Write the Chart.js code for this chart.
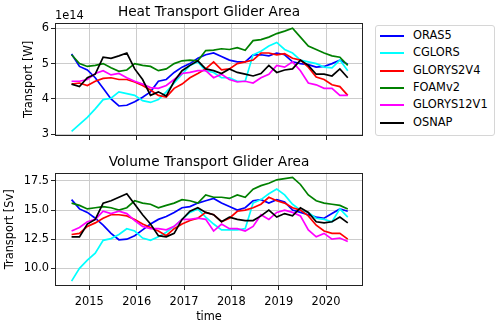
<!DOCTYPE html>
<html>
<head>
<meta charset="utf-8">
<script src="https://cdn.jsdelivr.net/npm/chart.js@4.4.0/dist/chart.umd.min.js"></script>
<style>
  body { margin: 0; background: #fff; font-family: "DejaVu Sans", sans-serif; }
  #wrap { position: relative; width: 500px; height: 325px; overflow: hidden; }
  #heatChart { position: absolute; left: 0; top: 0; }
  #volChart { position: absolute; left: 0; top: 150px; }
  #legend {
    position: absolute; left: 375px; top: 25px; width: 118px; height: 108px;
    border: 1px solid #d6d6d6; border-radius: 3px; background: #fff; padding-top: 1px;
  }
  .row { position: relative; height: 17.35px; font-size: 11.4px; line-height: 17.35px; color: #000; }
  .row i { position: absolute; left: 4px; top: 8px; width: 24px; height: 2px; }
  .row span { position: absolute; left: 37px; top: 0; white-space: nowrap; }
</style>
</head>
<body>
<div id="wrap">
  <canvas id="heatChart" width="370" height="150"></canvas>
  <canvas id="volChart" width="370" height="175"></canvas>
  <div id="legend"></div>
</div>
<script>
// bi-monthly samples, mid-month
const months = [
  '2014-08','2014-10','2014-12',
  '2015-02','2015-04','2015-06','2015-08','2015-10','2015-12',
  '2016-02','2016-04','2016-06','2016-08','2016-10','2016-12',
  '2017-02','2017-04','2017-06','2017-08','2017-10','2017-12',
  '2018-02','2018-04','2018-06','2018-08','2018-10','2018-12',
  '2019-02','2019-04','2019-06','2019-08','2019-10','2019-12',
  '2020-02','2020-04','2020-06'
];

const seriesNames = ['ORAS5', 'CGLORS', 'GLORYS2V4', 'FOAMv2', 'GLORYS12V1', 'OSNAP'];
const seriesColors = ['#0000ff', '#00ffff', '#ff0000', '#008000', '#ff00ff', '#000000'];

// heat transport, units of 1e14 W
const heatORAS5 = [5.27,4.92,4.82,4.6,4.3,4.0,3.8,3.82,3.92,4.05,4.2,4.5,4.55,4.75,4.9,5.0,5.15,5.25,5.3,5.2,5.1,5.05,5.05,5.25,5.25,5.22,5.3,5.25,5.05,5.0,4.97,4.9,4.92,5.0,5.1,4.98];
const heatCGLORS = [3.08,3.28,3.48,3.72,3.98,4.02,4.2,4.15,4.1,3.95,3.9,3.98,4.2,4.45,4.7,4.95,5.05,4.8,4.75,4.6,4.6,4.5,4.5,5.25,5.35,5.5,5.6,5.4,5.3,5.1,5.05,5.0,4.9,4.88,5.1,4.8];
const heatGLORYS2V4 = [4.42,4.45,4.38,4.5,4.58,4.6,4.55,4.55,4.48,4.38,4.25,4.1,4.05,4.3,4.42,4.6,4.72,4.85,5.05,4.82,4.85,5.0,5.05,5.1,5.3,5.3,5.25,5.28,5.15,5.1,4.9,4.62,4.55,4.4,4.35,4.1];
const heatFOAMv2 = [5.25,5.0,4.92,4.95,5.0,4.88,4.78,4.82,5.0,4.95,4.92,4.8,4.85,5.0,5.08,5.1,5.08,5.37,5.38,5.42,5.4,5.45,5.38,5.65,5.68,5.75,5.85,5.92,6.0,5.75,5.5,5.4,5.3,5.22,5.18,4.95];
const heatGLORYS12V1 = [4.5,4.5,4.55,4.72,4.8,4.68,4.72,4.6,4.5,4.42,4.32,4.3,4.38,4.55,4.72,4.75,4.8,4.8,4.6,4.7,4.55,4.48,4.5,4.45,4.6,4.7,4.95,4.9,5.05,4.8,4.45,4.4,4.3,4.3,4.1,4.1];
const heatOSNAP = [4.42,4.35,4.6,4.7,5.18,5.15,5.22,5.3,4.85,4.55,4.1,4.2,4.08,4.5,4.8,4.95,5.08,4.85,4.8,4.72,4.85,4.75,4.7,4.65,4.72,4.95,4.75,4.82,4.85,5.1,4.95,4.7,4.7,4.65,4.85,4.6];

// volume transport, Sv
const volORAS5 = [15.9,15.1,14.8,14.3,13.7,13.0,12.45,12.5,12.8,13.3,13.8,14.2,14.45,14.8,15.2,15.3,15.6,15.8,16.0,15.6,15.3,15.0,15.2,15.8,15.9,15.6,15.9,15.7,15.0,14.8,14.6,14.4,14.3,14.7,15.1,14.9];
const volCGLORS = [8.9,10.0,10.7,11.3,12.4,12.55,12.9,13.4,13.2,12.6,12.4,12.7,13.1,13.6,14.2,14.8,15.1,14.4,13.8,13.3,13.3,13.3,13.4,15.6,15.9,16.4,16.8,16.3,15.5,15.0,14.8,14.3,14.2,14.0,15.1,14.4];
const volGLORYS2V4 = [12.9,13.0,13.6,13.9,14.3,14.6,14.6,14.5,14.2,13.8,13.5,13.2,12.8,13.4,13.8,14.1,14.3,14.8,14.6,14.0,14.3,14.9,15.0,15.2,15.5,16.1,15.8,15.6,15.2,15.0,14.5,13.7,13.2,13.0,13.0,12.5];
const volFOAMv2 = [15.6,15.4,15.1,15.2,15.3,15.2,15.0,15.2,15.8,15.6,15.5,15.2,15.4,15.6,15.9,15.8,15.6,16.3,16.1,16.1,16.0,16.3,16.1,16.8,17.1,17.3,17.6,17.7,17.8,17.2,16.3,15.8,15.6,15.5,15.4,15.1];
const volGLORYS12V1 = [13.2,13.5,14.0,14.2,14.9,14.7,14.9,14.7,14.1,13.6,13.4,13.4,13.3,13.6,14.2,14.2,14.3,14.2,13.2,13.8,13.4,13.4,13.2,13.6,14.6,14.2,14.8,15.0,14.8,14.5,13.3,12.7,13.0,12.5,12.6,12.3];
const volOSNAP = [12.7,12.7,13.8,14.2,15.6,15.8,16.1,16.4,15.5,14.6,13.8,12.8,12.7,13.0,14.2,14.9,15.2,14.8,14.6,14.0,14.4,14.2,14.1,14.1,14.5,15.0,14.4,14.7,14.5,15.2,14.8,14.0,13.9,14.0,14.4,13.9];

const yearTicks = [2015, 2016, 2017, 2018, 2019, 2020];
const heatTicks = [3, 4, 5, 6];
const volTicks = [10, 12.5, 15, 17.5];

const heatSeries = [heatORAS5, heatCGLORS, heatGLORYS2V4, heatFOAMv2, heatGLORYS12V1, heatOSNAP];
const volSeries = [volORAS5, volCGLORS, volGLORYS2V4, volFOAMv2, volGLORYS12V1, volOSNAP];

// '2015-02' -> 2015.125 (middle of the month)
function toYear(m) {
    const [y, mo] = m.split('-').map(Number);
    return y + (mo - 0.5) / 12;
}
const times = months.map(toYear);

Chart.defaults.font.family = "'DejaVu Sans', sans-serif";
Chart.defaults.font.size = 11.4;
Chart.defaults.color = '#000';

// frame round the axes + title + offset text, like matplotlib
const panelPlugin = {
    id: 'panel',
    afterDraw(chart, args, opts) {
        const { ctx, chartArea: a } = chart;
        ctx.save();
        ctx.strokeStyle = '#222';
        ctx.lineWidth = 1;
        ctx.strokeRect(Math.round(a.left) + 0.5, Math.round(a.top) + 0.5,
            Math.round(a.right - a.left) - 1, Math.round(a.bottom - a.top) - 1);
        ctx.fillStyle = '#000';
        ctx.textBaseline = 'alphabetic';
        ctx.font = "13.7px 'DejaVu Sans'";
        ctx.textAlign = 'center';
        ctx.fillText(opts.title, (a.left + a.right) / 2, a.top - 7);
        if (opts.offsetText) {
            ctx.font = "11.4px 'DejaVu Sans'";
            ctx.textAlign = 'left';
            ctx.fillText(opts.offsetText, a.left, a.top - 4);
        }
        ctx.restore();
    }
};

function makeDatasets(series) {
    return series.map((vals, i) => ({
        label: seriesNames[i],
        data: vals.map((v, j) => ({ x: times[j], y: v })),
        borderColor: seriesColors[i],
        backgroundColor: seriesColors[i],
        borderWidth: 1.7,
        pointRadius: 0,
        tension: 0,
        fill: false,
        order: series.length - 1 - i   // last series on top
    }));
}

function makePanel(id, p) {
    return new Chart(document.getElementById(id), {
        type: 'line',
        data: { datasets: makeDatasets(p.series) },
        plugins: [panelPlugin],
        options: {
            responsive: false,
            animation: false,
            events: [],
            layout: { padding: { left: p.padLeft, top: p.padTop, right: 7, bottom: 0 } },
            plugins: {
                legend: { display: false },
                tooltip: { enabled: false },
                panel: { title: p.title, offsetText: p.offsetText }
            },
            scales: {
                x: {
                    type: 'linear',
                    min: 2014.275, max: 2020.78,
                    afterBuildTicks: s => { s.ticks = yearTicks.map(v => ({ value: v })); },
                    afterFit: s => { s.height = p.xHeight; },
                    ticks: { display: p.showYears, padding: 5, callback: v => String(v) },
                    grid: { color: '#cccccc', lineWidth: 1, tickColor: '#222', tickLength: 4 },
                    border: { display: false },
                    title: { display: p.showYears, text: 'time', padding: { top: 0, bottom: 1 } }
                },
                y: {
                    min: p.yMin, max: p.yMax,
                    afterBuildTicks: s => { s.ticks = p.yTicks.map(v => ({ value: v })); },
                    afterFit: s => { s.width = p.yWidth; },
                    ticks: { padding: 2, callback: p.fmt },
                    grid: { color: '#cccccc', lineWidth: 1, tickColor: '#222', tickLength: 4 },
                    border: { display: false },
                    title: { display: true, text: p.yLabel, padding: { top: 3, bottom: 0 } }
                }
            }
        }
    });
}

makePanel('heatChart', {
    series: heatSeries, title: 'Heat Transport Glider Area', offsetText: '1e14',
    yLabel: 'Transport [W]', yMin: 2.95, yMax: 6.15, yTicks: heatTicks, fmt: v => String(v),
    padLeft: 19, padTop: 23, yWidth: 36, xHeight: 14, showYears: false
});

makePanel('volChart', {
    series: volSeries, title: 'Volume Transport Glider Area', offsetText: null,
    yLabel: 'Transport [Sv]', yMin: 8.48, yMax: 18.21, yTicks: volTicks, fmt: v => v.toFixed(1),
    padLeft: 0, padTop: 22.7, yWidth: 55, xHeight: 39, showYears: true
});

// legend box on the right
const legend = document.getElementById('legend');
seriesNames.forEach((name, i) => {
    legend.innerHTML += `<div class="row"><i style="background:${seriesColors[i]}"></i><span>${name}</span></div>`;
});
</script>
</body>
</html>
